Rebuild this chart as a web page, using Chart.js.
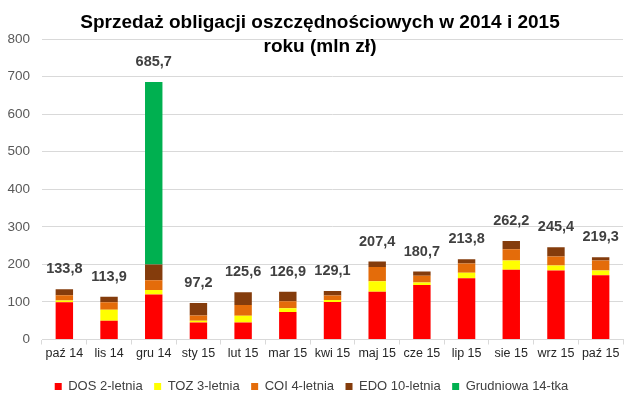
<!DOCTYPE html>
<html><head><meta charset="utf-8">
<script src="https://cdn.jsdelivr.net/npm/chart.js@4/dist/chart.umd.min.js"></script>
<style>html,body{margin:0;padding:0;background:#fff}#wrap{width:640px;height:406px;position:relative}</style>
</head><body><div id="wrap"><canvas id="c" width="640" height="406"></canvas></div>
<script>
const categories = ["paź 14","lis 14","gru 14","sty 15","lut 15","mar 15","kwi 15","maj 15","cze 15","lip 15","sie 15","wrz 15","paź 15"];
const dos2 = [99, 50, 120, 45, 45, 73, 100, 127, 145, 163, 186, 184, 171];
const toz3 = [5, 29, 12, 5, 18, 10, 5, 28, 7, 15, 24, 13, 13];
const coi4 = [14, 20, 26, 14, 29, 19, 12, 38, 18, 24, 30, 24, 26];
const edo10 = [15.8, 14.9, 42, 33.2, 33.6, 24.9, 12.1, 14.4, 10.7, 11.8, 22.2, 24.4, 9.3];
const grudniowa14 = [0, 0, 485.7, 0, 0, 0, 0, 0, 0, 0, 0, 0, 0];
const totals = ["133,8","113,9","685,7","97,2","125,6","126,9","129,1","207,4","180,7","213,8","262,2","245,4","219,3"];
const yTicks = [0,100,200,300,400,500,600,700,800];
const titleLines = ["Sprzedaż obligacji oszczędnościowych w 2014 i 2015","roku (mln zł)"];

const FONT = "'Liberation Sans', Arial, sans-serif";

const totalsPlugin = {
  id: 'totals',
  afterDatasetsDraw(chart) {
    const ctx = chart.ctx;
    const n = chart.data.datasets.length;
    const lastMeta = chart.getDatasetMeta(n - 1);
    ctx.save();
    ctx.font = "bold 14.5px " + FONT;
    ctx.fillStyle = "#404040";
    ctx.textAlign = "center";
    ctx.textBaseline = "middle";
    categories.forEach((c, i) => {
      let sum = 0;
      chart.data.datasets.forEach(ds => sum += ds.data[i]);
      const y = chart.scales.y.getPixelForValue(sum);
      const x = lastMeta.data[i].x;
      ctx.fillText(totals[i], x, y - 20);
    });
    ctx.restore();
  }
};

const titlePlugin = {
  id: 'lineTitle',
  afterDraw(chart) {
    const ctx = chart.ctx;
    ctx.save();
    ctx.font = "bold 19px " + FONT;
    ctx.textAlign = "center";
    ctx.textBaseline = "middle";
    ctx.fillStyle = "#000000";
    const ys = [23, 47];
    titleLines.forEach((t, k) => ctx.fillText(t, 320, ys[k]));
    ctx.restore();
  }
};

const bgPlugin = {
  id: 'bg',
  beforeDraw(chart) {
    const ctx = chart.ctx;
    ctx.save();
    ctx.fillStyle = '#fff';
    ctx.fillRect(0, 0, chart.width, chart.height);
    ctx.restore();
  }
};

new Chart(document.getElementById('c'), {
  type: 'bar',
  data: {
    labels: categories,
    datasets: [
      { label: 'DOS 2-letnia', data: dos2, backgroundColor: '#ff0000' },
      { label: 'TOZ 3-letnia', data: toz3, backgroundColor: '#ffff00' },
      { label: 'COI 4-letnia', data: coi4, backgroundColor: '#e46c0a' },
      { label: 'EDO 10-letnia', data: edo10, backgroundColor: '#843c0c' },
      { label: 'Grudniowa 14-tka', data: grudniowa14, backgroundColor: '#00b050' }
    ]
  },
  options: {
    responsive: false,
    animation: false,
    devicePixelRatio: 1,
    datasets: { bar: { categoryPercentage: 1, barPercentage: 0.39, borderWidth: 0 } },
    layout: { padding: { top: 39, right: 17, left: 0, bottom: 3 } },
    plugins: {
      title: { display: false },
      tooltip: { enabled: false },
      legend: {
        position: 'bottom',
        labels: {
          font: { family: FONT, size: 13 },
          color: '#404040',
          boxWidth: 7, boxHeight: 7,
          padding: 11.5
        }
      }
    },
    scales: {
      x: {
        stacked: true,
        afterFit(scale) { scale.height = scale.height + 5; },
        grid: { display: true, offset: true, drawOnChartArea: false, color: '#d9d9d9', tickLength: 5 },
        border: { display: true, color: '#d9d9d9' },
        ticks: { font: { family: FONT, size: 12.5 }, color: '#262626', padding: 2, maxRotation: 0, autoSkip: false }
      },
      y: {
        stacked: true,
        min: 0, max: 800,
        afterBuildTicks(scale) { scale.ticks = yTicks.map(v => ({ value: v })); },
        afterFit(scale) { scale.width = 42; },
        grid: { color: '#d9d9d9', drawTicks: false },
        border: { display: false },
        ticks: { font: { family: FONT, size: 13.5 }, color: '#595959', padding: 12 }
      }
    }
  },
  plugins: [bgPlugin, totalsPlugin, titlePlugin]
});
</script>
</body></html>
